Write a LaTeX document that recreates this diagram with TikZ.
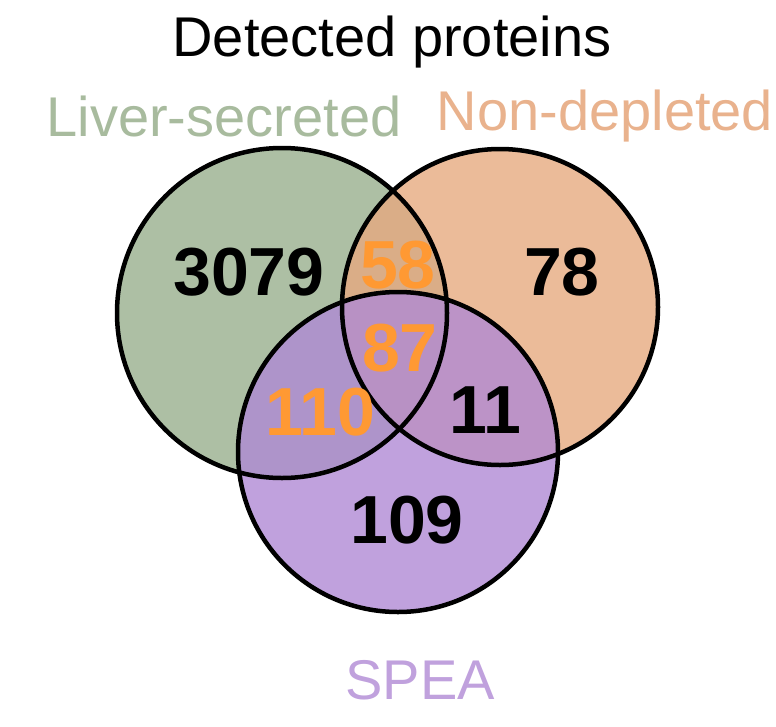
\documentclass[tikz,border=0pt]{standalone}
\usepackage{fontspec}
\setmainfont{Liberation Sans}
\usetikzlibrary{positioning}
\definecolor{liverc}{HTML}{98AF8D}
\definecolor{nondep}{HTML}{E6AA80}
\definecolor{speac}{HTML}{B08AD4}
\definecolor{overlap}{HTML}{FF9933}
\begin{document}
\begin{tikzpicture}[
    x=1pt, y=-1pt,
    set/.style={draw=black, line width=3pt, fill opacity=0.8},
    count/.style={font=\fontsize{68}{74}\selectfont\bfseries, inner sep=0pt},
    shared/.style={count, text=overlap},
    setlabel/.style={font=\fontsize{56}{62}\selectfont, inner sep=0pt}
]
\useasboundingbox (0,0) rectangle (776,726);

% Sets
\fill[set, fill=liverc] (282,313) circle[radius=165pt];
\fill[set, fill=nondep] (500,307) circle[radius=158pt];
\fill[set, fill=speac] (398,452) circle[radius=160pt];
\draw[line width=4.5pt] (282,313) circle[radius=165pt];
\draw[line width=4.5pt] (500,307) circle[radius=158pt];
\draw[line width=4.5pt] (398,452) circle[radius=160pt];

% Titles
\node[setlabel] (title) at (392,42) {Detected proteins};
\node[setlabel, text=liverc!85] (liver) at (224,116) {Liver-secreted};
\node[setlabel, text=nondep!90] (nondepleted) at (605,116) {Non-depleted};
\node[setlabel, text=speac!80] (spea) at (420,680) {SPEA};

% Counts
\node[count] (onlyliver) at (249,272) {3079};
\node[count] (onlynon) at (562,272) {78};
\node[count] (onlyspea) at (407,520) {109};
\node[count] (nonspea) at (485,410) {11};
\node[shared] (livernon) at (398,265) {58};
\node[shared] (allthree) at (400,348) {87};
\node[shared] (liverspea) at (320,412) {110};
\end{tikzpicture}
\end{document}
